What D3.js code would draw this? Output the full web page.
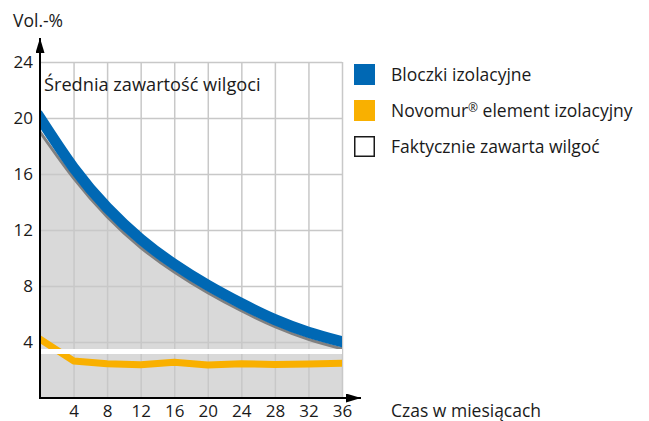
<!DOCTYPE html>
<html>
<head>
<meta charset="utf-8">
<script src="https://cdn.jsdelivr.net/npm/d3@7"></script>
<style>
  body { margin: 0; background: #fff; }
  svg text { font-family: "Open Sans", "Noto Sans", sans-serif; fill: #1a1a1a; }
</style>
</head>
<body>
<svg id="chart"></svg>
<script>
// data
const months = [0, 4, 8, 12, 16, 20, 24, 28, 32, 36];
const bloczki = [20.0, 16.45, 13.6, 11.35, 9.55, 8.05, 6.75, 5.6, 4.7, 4.02];
const shadow = [19.0, 15.7, 12.95, 10.75, 9.0, 7.52, 6.23, 5.1, 4.2, 3.52];
const novomur = [4.2, 2.65, 2.45, 2.38, 2.55, 2.36, 2.45, 2.4, 2.42, 2.48];
const faktycznie = [3.32, 3.32, 3.32, 3.32, 3.32, 3.32, 3.32, 3.32, 3.32, 3.32];
const xTicks = [4, 8, 12, 16, 20, 24, 28, 32, 36];
const yTicks = [4, 8, 12, 16, 20, 24];
const legendItems = [
  { label: "Bloczki izolacyjne", sup: "", rest: "", color: "#0068b4", stroke: "none" },
  { label: "Novomur", sup: "®", rest: " element izolacyjny", color: "#f9b000", stroke: "none" },
  { label: "Faktycznie zawarta wilgoć", sup: "", rest: "", color: "#ffffff", stroke: "#1a1a1a" },
];

const w = 649;
const h = 421;
const plotLeft = 40;
const plotRight = 342;
const plotTop = 62;
const plotBottom = 398;
const fontSize = 17.5;

const svg = d3.select("#chart").attr("width", w).attr("height", h);

const x = d3.scaleLinear().domain([0, 36]).range([plotLeft, plotRight]);
const y = d3.scaleLinear().domain([0, 24]).range([plotBottom, plotTop]);

const defs = svg.append("defs");
defs.append("clipPath")
  .attr("id", "plot")
  .append("rect")
  .attr("x", plotLeft)
  .attr("y", 30)
  .attr("width", plotRight - plotLeft)
  .attr("height", plotBottom - 30);

defs.append("marker")
  .attr("id", "arrow")
  .attr("viewBox", "0 0 15 9")
  .attr("refX", 15)
  .attr("refY", 4.5)
  .attr("markerWidth", 15)
  .attr("markerHeight", 9)
  .attr("markerUnits", "userSpaceOnUse")
  .attr("orient", "auto")
  .append("path")
  .attr("d", "M0,0 L15,4.5 L0,9 Z")
  .attr("fill", "#000");

// grey area under the curve
const area = d3.area()
  .x((d, i) => x(months[i]))
  .y0(y(0))
  .y1((d) => y(d))
  .curve(d3.curveNatural);

svg.append("path")
  .datum(shadow)
  .attr("d", area)
  .attr("fill", "#d9d9d9");

// grid
svg.append("g")
  .attr("transform", "translate(0," + plotBottom + ")")
  .call(d3.axisBottom(x).tickValues(xTicks).tickSize(-(plotBottom - plotTop)).tickFormat(""))
  .call((g) => g.select(".domain").remove())
  .call((g) => g.selectAll("line").attr("stroke", "#c8c8c8").attr("stroke-width", 1.5));

svg.append("g")
  .attr("transform", "translate(" + plotLeft + ",0)")
  .call(d3.axisLeft(y).tickValues(yTicks).tickSize(-(plotRight - plotLeft)).tickFormat(""))
  .call((g) => g.select(".domain").remove())
  .call((g) => g.selectAll("line").attr("stroke", "#c8c8c8").attr("stroke-width", 1.5));

const plot = svg.append("g").attr("clip-path", "url(#plot)");

const line = d3.line()
  .x((d, i) => x(months[i]))
  .y((d) => y(d))
  .curve(d3.curveNatural);

plot.append("path")
  .datum(shadow)
  .attr("d", line)
  .attr("fill", "none")
  .attr("stroke", "#808080")
  .attr("stroke-width", 3)
  .attr("stroke-linecap", "square");

plot.append("path")
  .datum(bloczki)
  .attr("d", line)
  .attr("fill", "none")
  .attr("stroke", "#0068b4")
  .attr("stroke-width", 11)
  .attr("stroke-linecap", "square");

const straight = d3.line()
  .x((d, i) => x(months[i]))
  .y((d) => y(d));

plot.append("path")
  .datum(novomur)
  .attr("d", straight)
  .attr("fill", "none")
  .attr("stroke", "#f9b000")
  .attr("stroke-width", 7)
  .attr("stroke-linejoin", "round")
  .attr("stroke-linecap", "square");

plot.append("path")
  .datum(faktycznie)
  .attr("d", straight)
  .attr("fill", "none")
  .attr("stroke", "#ffffff")
  .attr("stroke-width", 5)
  .attr("stroke-linecap", "square");

// axes with arrows
svg.append("line")
  .attr("x1", plotLeft).attr("y1", plotBottom)
  .attr("x2", plotLeft).attr("y2", 38)
  .attr("stroke", "#000").attr("stroke-width", 2)
  .attr("marker-end", "url(#arrow)");

svg.append("line")
  .attr("x1", plotLeft - 1).attr("y1", plotBottom)
  .attr("x2", 361).attr("y2", plotBottom)
  .attr("stroke", "#000").attr("stroke-width", 2)
  .attr("marker-end", "url(#arrow)");

svg.append("g")
  .attr("transform", "translate(" + plotLeft + ",0)")
  .call(d3.axisLeft(y).tickValues(yTicks).tickSize(0).tickPadding(7))
  .call((g) => g.select(".domain").remove())
  .call((g) => g.selectAll("text").attr("font-size", 17).attr("font-family", null));

svg.append("g")
  .attr("transform", "translate(0," + plotBottom + ")")
  .call(d3.axisBottom(x).tickValues(xTicks).tickSize(0).tickPadding(7))
  .call((g) => g.select(".domain").remove())
  .call((g) => g.selectAll("text").attr("font-size", 17).attr("font-family", null));

svg.append("text")
  .attr("x", 13)
  .attr("y", 26.5)
  .attr("font-size", fontSize)
  .text("Vol.-%");

svg.append("text")
  .attr("x", 391)
  .attr("y", 417)
  .attr("font-size", fontSize)
  .text("Czas w miesiącach");

svg.append("text")
  .attr("x", 44)
  .attr("y", 91)
  .attr("font-size", 18.2)
  .text("Średnia zawartość wilgoci");

// legend
const legend = svg.append("g")
  .selectAll("g")
  .data(legendItems)
  .enter()
  .append("g")
  .attr("transform", (d, i) => "translate(354," + (64 + i * 36) + ")");

legend.append("rect")
  .attr("x", (d) => (d.stroke === "none" ? 0 : 0.75))
  .attr("y", (d) => (d.stroke === "none" ? 0 : 0.75))
  .attr("width", (d) => (d.stroke === "none" ? 21 : 19.5))
  .attr("height", (d) => (d.stroke === "none" ? 21 : 19.5))
  .attr("fill", (d) => d.color)
  .attr("stroke", (d) => d.stroke)
  .attr("stroke-width", 1.5);

const labels = legend.append("text")
  .attr("x", 37)
  .attr("y", 16.5)
  .attr("font-size", fontSize);

labels.append("tspan").text((d) => d.label);
labels.filter((d) => d.sup)
  .append("tspan")
  .attr("font-size", 12)
  .attr("dy", -5)
  .text((d) => d.sup);
labels.filter((d) => d.rest)
  .append("tspan")
  .attr("dy", 5)
  .text((d) => d.rest);
</script>
</body>
</html>
